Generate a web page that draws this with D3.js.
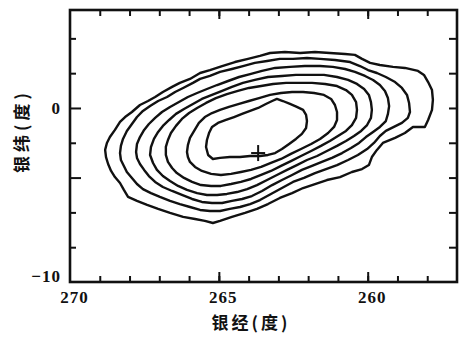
<!DOCTYPE html>
<html><head><meta charset="utf-8">
<script src="https://cdn.jsdelivr.net/npm/d3@7"></script>
<style>html,body{margin:0;padding:0;background:#fff;} svg{display:block}</style>
</head><body>
<svg id="c" width="465" height="342"></svg>
<script>
// ---- data (galactic longitude, galactic latitude in degrees) ----
const xMinorTicks = [258,259,260,261,262,263,264,265,266,267,268,269];
const xMajorTicks = [265,260];
const xTickLabels = [270,265,260];
const yMinorTicks = [-8,-6,-2,2,4];
const yMajorTicks = [0,-4];
const yTickLabels = [0,-10];
const xTitle = "银经(度)";
const yTitle = "银纬(度)";
const peakPos = [263.68,-2.59];

const contour1 = [[268.82,-2.41],[268.76,-2.01],[268.66,-1.67],[268.49,-1.26],[268.32,-0.80],[268.15,-0.52],[267.92,-0.23],[267.65,0.17],[267.38,0.40],[267.14,0.63],[266.88,0.92],[266.57,1.21],[266.31,1.44],[265.97,1.67],[265.63,2.01],[265.30,2.18],[264.89,2.41],[264.46,2.64],[264.02,2.82],[263.62,2.99],[263.28,3.16],[262.78,3.22],[262.27,3.16],[261.77,3.22],[261.27,3.16],[260.76,3.10],[260.43,3.05],[260.19,2.82],[259.92,2.59],[259.59,2.47],[259.15,2.36],[258.75,2.30],[258.31,2.13],[258.11,1.90],[257.97,1.49],[257.84,1.03],[257.81,0.46],[257.84,-0.11],[257.97,-0.69],[258.08,-1.09],[258.48,-1.09],[258.75,-1.44],[259.08,-1.72],[259.49,-2.01],[259.69,-2.41],[259.86,-2.82],[259.96,-3.28],[260.19,-3.51],[260.53,-3.68],[260.93,-3.97],[261.37,-4.14],[261.77,-4.37],[262.17,-4.60],[262.54,-4.89],[262.95,-5.17],[263.35,-5.52],[263.72,-5.80],[264.12,-6.03],[264.56,-6.26],[264.96,-6.49],[265.20,-6.61],[265.47,-6.49],[265.80,-6.38],[266.20,-6.26],[266.64,-6.03],[267.04,-5.80],[267.41,-5.57],[267.75,-5.34],[268.05,-5.11],[268.19,-4.71],[268.32,-4.31],[268.49,-3.97],[268.62,-3.62],[268.72,-3.22],[268.79,-2.82]];

const contour2 = [[268.32,-2.59],[268.29,-2.18],[268.22,-1.78],[268.09,-1.32],[267.92,-0.92],[267.75,-0.52],[267.55,-0.17],[267.31,0.11],[267.04,0.40],[266.74,0.63],[266.47,0.92],[266.20,1.15],[265.87,1.44],[265.63,1.67],[265.30,1.84],[264.96,2.07],[264.56,2.24],[264.19,2.41],[263.79,2.59],[263.38,2.70],[262.95,2.82],[262.51,2.82],[262.04,2.87],[261.60,2.82],[261.10,2.76],[260.59,2.64],[260.26,2.41],[259.99,2.18],[259.69,2.01],[259.39,1.78],[259.08,1.49],[258.85,1.15],[258.68,0.75],[258.61,0.29],[258.58,-0.23],[258.65,-0.57],[258.85,-0.86],[259.12,-1.09],[259.39,-1.32],[259.59,-1.61],[259.79,-2.01],[260.02,-2.36],[260.33,-2.70],[260.66,-2.99],[261.03,-3.28],[261.40,-3.51],[261.77,-3.74],[262.14,-4.02],[262.51,-4.25],[262.88,-4.60],[263.25,-4.94],[263.62,-5.29],[263.95,-5.52],[264.29,-5.69],[264.63,-5.80],[264.96,-5.92],[265.30,-5.92],[265.63,-5.86],[265.97,-5.69],[266.31,-5.52],[266.64,-5.34],[266.98,-5.11],[267.28,-4.89],[267.55,-4.66],[267.75,-4.37],[267.92,-4.02],[268.09,-3.68],[268.19,-3.33],[268.29,-2.99]];

const contour3 = [[267.78,-2.53],[267.75,-2.07],[267.65,-1.67],[267.51,-1.26],[267.35,-0.92],[267.14,-0.57],[266.91,-0.23],[266.64,0.06],[266.34,0.34],[266.04,0.63],[265.73,0.86],[265.40,1.09],[265.06,1.32],[264.69,1.55],[264.32,1.78],[263.95,1.95],[263.55,2.13],[263.11,2.30],[262.61,2.36],[262.11,2.41],[261.60,2.41],[261.17,2.36],[260.76,2.24],[260.43,2.07],[260.09,1.84],[259.82,1.61],[259.59,1.32],[259.42,0.98],[259.32,0.57],[259.28,0.11],[259.32,-0.34],[259.39,-0.75],[259.59,-1.09],[259.82,-1.38],[260.06,-1.67],[260.29,-2.01],[260.56,-2.30],[260.86,-2.59],[261.20,-2.87],[261.54,-3.10],[261.87,-3.33],[262.21,-3.56],[262.54,-3.85],[262.88,-4.14],[263.21,-4.43],[263.55,-4.77],[263.89,-5.06],[264.22,-5.23],[264.56,-5.34],[264.89,-5.46],[265.23,-5.46],[265.57,-5.40],[265.90,-5.23],[266.24,-5.00],[266.57,-4.77],[266.88,-4.54],[267.14,-4.25],[267.35,-3.91],[267.51,-3.56],[267.65,-3.22],[267.75,-2.87]];

const contour4 = [[267.31,-2.70],[267.28,-2.24],[267.18,-1.78],[267.04,-1.38],[266.88,-1.03],[266.67,-0.69],[266.44,-0.34],[266.17,-0.06],[265.87,0.23],[265.57,0.52],[265.23,0.75],[264.89,0.98],[264.56,1.21],[264.19,1.44],[263.79,1.61],[263.35,1.78],[262.88,1.84],[262.41,1.90],[261.94,1.90],[261.47,1.90],[261.03,1.78],[260.66,1.61],[260.36,1.38],[260.12,1.09],[259.96,0.75],[259.89,0.34],[259.86,-0.11],[259.89,-0.57],[260.02,-0.98],[260.22,-1.32],[260.46,-1.61],[260.73,-1.90],[261.03,-2.18],[261.37,-2.47],[261.70,-2.76],[262.04,-2.99],[262.38,-3.28],[262.71,-3.56],[263.05,-3.85],[263.38,-4.14],[263.72,-4.43],[264.05,-4.66],[264.39,-4.83],[264.73,-4.94],[265.06,-5.00],[265.40,-5.00],[265.73,-4.89],[266.07,-4.71],[266.37,-4.48],[266.64,-4.20],[266.88,-3.91],[267.08,-3.56],[267.21,-3.16]];

const contour5 = [[266.78,-2.70],[266.78,-2.24],[266.71,-1.84],[266.61,-1.44],[266.44,-1.03],[266.24,-0.63],[266.00,-0.29],[265.73,0.00],[265.43,0.29],[265.10,0.57],[264.73,0.80],[264.36,0.98],[263.99,1.15],[263.58,1.26],[263.18,1.38],[262.74,1.44],[262.31,1.44],[261.87,1.44],[261.43,1.38],[261.03,1.26],[260.73,1.03],[260.53,0.75],[260.39,0.34],[260.36,-0.11],[260.39,-0.57],[260.53,-0.98],[260.73,-1.32],[261.00,-1.61],[261.27,-1.90],[261.57,-2.18],[261.90,-2.47],[262.24,-2.76],[262.58,-3.05],[262.91,-3.33],[263.25,-3.62],[263.58,-3.85],[263.92,-4.08],[264.26,-4.25],[264.59,-4.37],[264.93,-4.48],[265.26,-4.48],[265.60,-4.43],[265.90,-4.25],[266.17,-4.02],[266.41,-3.74],[266.57,-3.45],[266.71,-3.10]];

const contour6 = [[266.07,-2.53],[266.04,-2.13],[265.97,-1.72],[265.83,-1.32],[265.67,-0.86],[265.47,-0.52],[265.23,-0.29],[264.96,-0.11],[264.66,0.06],[264.32,0.23],[263.99,0.40],[263.65,0.57],[263.28,0.75],[262.91,0.86],[262.54,0.92],[262.17,0.92],[261.80,0.86],[261.47,0.75],[261.23,0.52],[261.10,0.17],[261.03,-0.23],[261.03,-0.69],[261.13,-1.09],[261.33,-1.44],[261.60,-1.78],[261.90,-2.07],[262.24,-2.36],[262.58,-2.64],[262.91,-2.93],[263.25,-3.16],[263.58,-3.39],[263.92,-3.56],[264.26,-3.68],[264.59,-3.79],[264.93,-3.85],[265.26,-3.79],[265.57,-3.62],[265.80,-3.39],[265.97,-3.10],[266.04,-2.82]];

const contour7 = [[265.43,-2.24],[265.40,-1.84],[265.33,-1.44],[265.23,-1.09],[265.03,-0.86],[264.76,-0.69],[264.49,-0.52],[264.22,-0.34],[263.95,-0.17],[263.68,0.00],[263.42,0.23],[263.21,0.40],[263.05,0.52],[262.85,0.40],[262.61,0.23],[262.38,0.06],[262.17,-0.11],[262.07,-0.40],[262.04,-0.75],[262.07,-1.15],[262.21,-1.49],[262.41,-1.78],[262.64,-2.07],[262.88,-2.36],[263.11,-2.59],[263.35,-2.70],[263.62,-2.76],[263.95,-2.76],[264.29,-2.82],[264.63,-2.82],[264.96,-2.87],[265.20,-2.93],[265.36,-2.70]];

const contours = [contour1, contour2, contour3, contour4, contour5, contour6, contour7];

// ---- drawing ----
const svg = d3.select('#c');
const ink = '#111';
const x = d3.scaleLinear().domain([270, 257]).range([70, 457]);
const y = d3.scaleLinear().domain([-10, 5.63]).range([282, 10]);

function styleAxis(s){
  s.select('.domain').remove();
  s.selectAll('.tick line').attr('stroke', ink).attr('stroke-width', 2);
}
// bottom / top ticks (inward)
svg.append('g').attr('transform',`translate(0,${y(-10)})`)
  .call(d3.axisBottom(x).tickValues(xMinorTicks).tickSize(-6).tickFormat(''))
  .call(styleAxis);
svg.append('g').attr('transform',`translate(0,${y(-10)})`)
  .call(d3.axisBottom(x).tickValues(xMajorTicks).tickSize(-10).tickFormat(''))
  .call(styleAxis);
svg.append('g').attr('transform',`translate(0,${y(5.63)})`)
  .call(d3.axisTop(x).tickValues(xMinorTicks).tickSize(-6).tickFormat(''))
  .call(styleAxis);
svg.append('g').attr('transform',`translate(0,${y(5.63)})`)
  .call(d3.axisTop(x).tickValues(xMajorTicks).tickSize(-9).tickFormat(''))
  .call(styleAxis);
// left / right ticks (inward)
svg.append('g').attr('transform',`translate(${x(270)},0)`)
  .call(d3.axisLeft(y).tickValues(yMinorTicks).tickSize(-6).tickFormat(''))
  .call(styleAxis);
svg.append('g').attr('transform',`translate(${x(270)},0)`)
  .call(d3.axisLeft(y).tickValues(yMajorTicks).tickSize(-11).tickFormat(''))
  .call(styleAxis);
svg.append('g').attr('transform',`translate(${x(257)},0)`)
  .call(d3.axisRight(y).tickValues(yMinorTicks.concat(yMajorTicks)).tickSize(-8).tickFormat(''))
  .call(styleAxis);

// frame
svg.append('rect')
  .attr('x', x(270)).attr('y', y(5.63))
  .attr('width', x(257) - x(270)).attr('height', y(-10) - y(5.63))
  .attr('fill', 'none').attr('stroke', ink).attr('stroke-width', 2.6);

// tick labels
const labelFont = '"Liberation Serif", "DejaVu Serif", serif';
const xl = svg.append('g').attr('transform',`translate(4,${y(-10)})`)
  .call(d3.axisBottom(x).tickValues(xTickLabels).tickSize(0).tickPadding(9));
xl.select('.domain').remove();
xl.selectAll('text').attr('font-family', labelFont).attr('font-size', 17).attr('font-weight','bold')
  .attr('letter-spacing', 1).attr('fill', ink);

const yl = svg.append('g').attr('transform',`translate(${x(270)},0)`)
  .call(d3.axisLeft(y).tickValues(yTickLabels).tickSize(0).tickPadding(9));
yl.select('.domain').remove();
yl.selectAll('text').attr('font-family', labelFont).attr('font-size', 17).attr('font-weight','bold')
  .attr('letter-spacing', 1).attr('fill', ink)
  .attr('dy', d => d === -10 ? '-0.05em' : '0.32em');

// axis titles
const titleFont = '"Noto Sans CJK SC", sans-serif';
svg.append('text').attr('x', 251).attr('y', 329)
  .attr('text-anchor','middle').attr('font-family', titleFont).attr('font-size', 17)
  .attr('font-weight','bold').attr('letter-spacing', 3).attr('fill', ink).text(xTitle);
svg.append('text').attr('transform', 'translate(28,131) rotate(-90)')
  .attr('text-anchor','middle').attr('font-family', titleFont).attr('font-size', 17)
  .attr('font-weight','bold').attr('letter-spacing', 4).attr('fill', ink).text(yTitle);

// contours
const line = d3.line().x(d => x(d[0])).y(d => y(d[1])).curve(d3.curveLinearClosed);
svg.append('g').selectAll('path').data(contours).join('path')
  .attr('d', line).attr('fill','none').attr('stroke', ink)
  .attr('stroke-width', 2.4).attr('stroke-linejoin','round');

// peak marker (+)
const px = x(peakPos[0]), py = y(peakPos[1]);
svg.append('g').attr('stroke', ink).attr('stroke-width', 2)
  .call(g => {
    g.append('line').attr('x1', px-7).attr('x2', px+7).attr('y1', py).attr('y2', py);
    g.append('line').attr('x1', px).attr('x2', px).attr('y1', py-8).attr('y2', py+8);
  });
</script>
</body></html>
